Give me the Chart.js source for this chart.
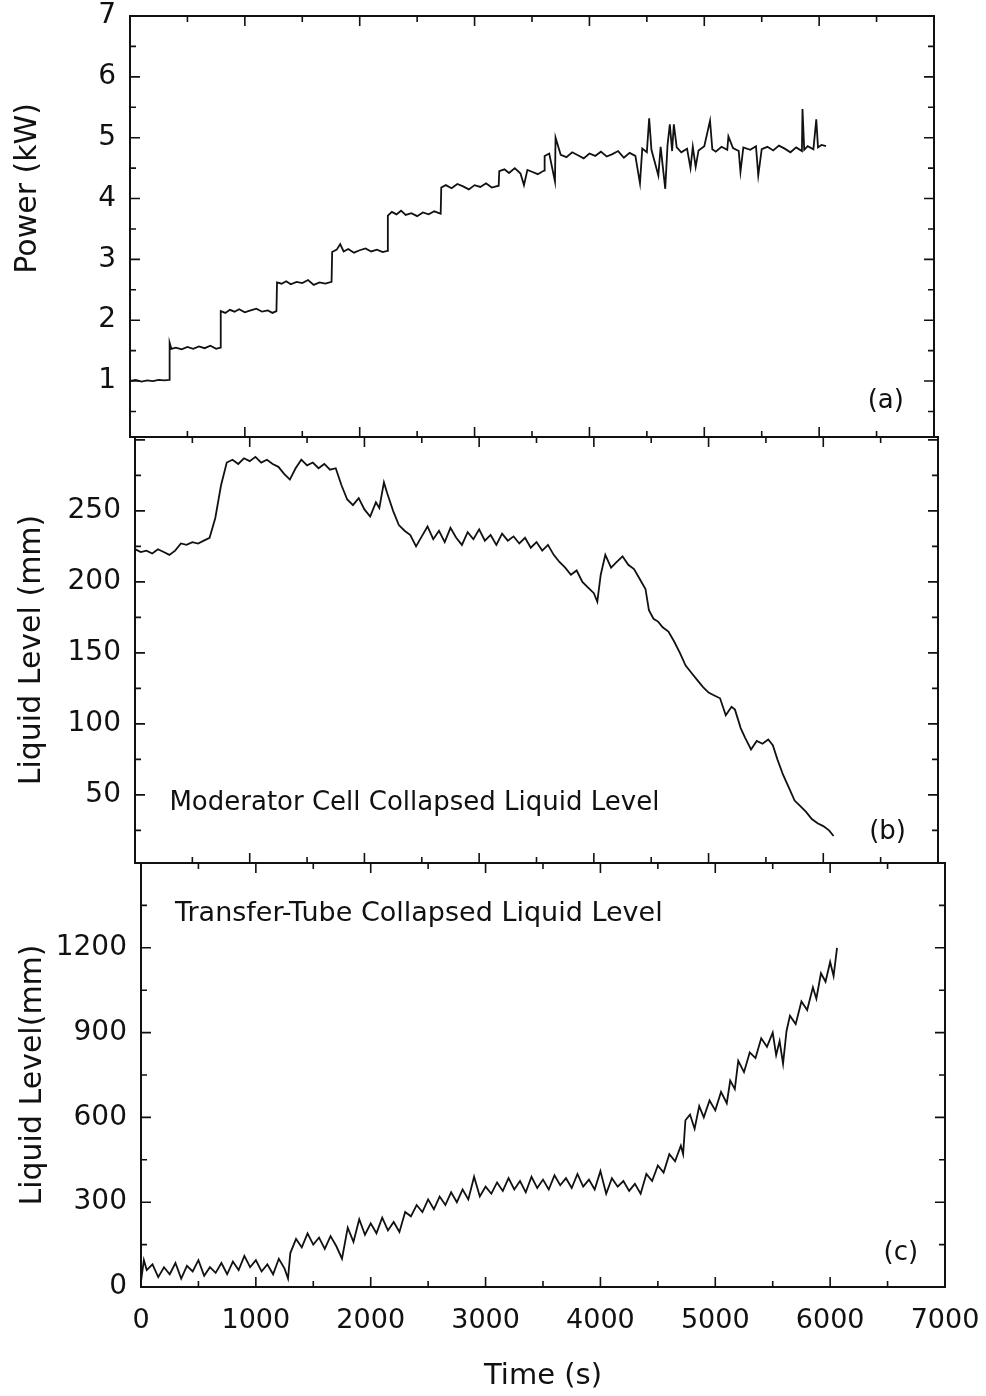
<!DOCTYPE html>
<html>
<head>
<meta charset="utf-8">
<script src="https://cdn.jsdelivr.net/npm/chart.js@4.4.1/dist/chart.umd.min.js"></script>
<style>
  html, body { margin: 0; padding: 0; background: #fff; }
  #wrap { position: relative; width: 986px; height: 1396px; }
  #wrap canvas { position: absolute; left: 0; }
</style>
</head>
<body>
<div id="wrap">
  <canvas id="powerChart" width="986" height="446" style="top:0px"></canvas>
  <canvas id="cellChart" width="986" height="446" style="top:428px"></canvas>
  <canvas id="tubeChart" width="986" height="546" style="top:850px"></canvas>
</div>
<script>
// (a) heater power
var powerTime = [
  0, 50, 100, 150, 200, 250, 300, 340, 345, 360,
  400, 450, 500, 550, 600, 650, 700, 750, 785, 790,
  830, 870, 910, 950, 1000, 1050, 1100, 1150, 1200, 1240,
  1275, 1280, 1320, 1360, 1400, 1450, 1500, 1550, 1600, 1650,
  1700, 1755, 1760, 1800, 1830, 1860, 1900, 1950, 2000, 2050,
  2100, 2150, 2200, 2240, 2245, 2280, 2320, 2360, 2400, 2450,
  2500, 2550, 2600, 2650, 2705, 2710, 2750, 2800, 2850, 2900,
  2950, 3000, 3050, 3100, 3150, 3210, 3215, 3260, 3300, 3350,
  3400, 3430, 3460, 3500, 3550, 3605, 3610, 3650, 3700, 3705,
  3750, 3800, 3850, 3900, 3950, 4000, 4050, 4100, 4150, 4200,
  4250, 4300, 4350, 4400, 4440, 4460, 4500, 4520, 4540, 4600,
  4620, 4660, 4680, 4700, 4720, 4735, 4760, 4800, 4850, 4880,
  4900, 4925, 4950, 5000, 5050, 5070, 5100, 5150, 5200, 5210,
  5250, 5300, 5315, 5340, 5400, 5450, 5470, 5500, 5550, 5600,
  5650, 5700, 5750, 5800, 5850, 5855, 5870, 5900, 5950, 5975,
  5990, 6020, 6060
];
var powerKW = [
  1.00, 1.02, 0.99, 1.01, 1.00, 1.02, 1.01, 1.02, 1.63, 1.53,
  1.55, 1.52, 1.56, 1.53, 1.57, 1.54, 1.58, 1.53, 1.55, 2.15,
  2.12, 2.17, 2.14, 2.18, 2.13, 2.16, 2.19, 2.14, 2.16, 2.12,
  2.15, 2.62, 2.60, 2.64, 2.59, 2.63, 2.61, 2.66, 2.58, 2.62,
  2.60, 2.63, 3.12, 3.16, 3.25, 3.13, 3.17, 3.11, 3.15, 3.18,
  3.13, 3.16, 3.12, 3.14, 3.72, 3.78, 3.74, 3.80, 3.73, 3.76,
  3.71, 3.77, 3.74, 3.79, 3.75, 4.18, 4.22, 4.17, 4.24, 4.20,
  4.15, 4.22, 4.19, 4.25, 4.18, 4.21, 4.45, 4.48, 4.42, 4.50,
  4.41, 4.22, 4.47, 4.44, 4.40, 4.46, 4.70, 4.74, 4.28, 5.00,
  4.72, 4.68, 4.76, 4.71, 4.66, 4.74, 4.70, 4.77, 4.69, 4.73,
  4.78, 4.67, 4.75, 4.70, 4.25, 4.82, 4.76, 5.32, 4.80, 4.38,
  4.85, 4.16, 4.88, 5.22, 4.78, 5.22, 4.84, 4.76, 4.82, 4.50,
  4.85, 4.52, 4.79, 4.86, 5.28, 4.81, 4.77, 4.85, 4.80, 5.02,
  4.83, 4.78, 4.44, 4.84, 4.80, 4.86, 4.38, 4.81, 4.85, 4.79,
  4.87, 4.82, 4.76, 4.84, 4.78, 5.47, 4.80, 4.86, 4.81, 5.30,
  4.84, 4.88, 4.86
];

// (b) moderator cell collapsed liquid level
var cellTime = [
  0, 50, 100, 150, 200, 250, 300, 350, 400, 450,
  500, 550, 600, 650, 700, 750, 800, 850, 900, 950,
  1000, 1050, 1100, 1150, 1200, 1250, 1300, 1350, 1400, 1450,
  1500, 1550, 1600, 1650, 1700, 1750, 1800, 1850, 1900, 1950,
  2000, 2050, 2100, 2130, 2170, 2200, 2250, 2300, 2350, 2400,
  2450, 2500, 2550, 2600, 2650, 2700, 2750, 2800, 2850, 2900,
  2950, 3000, 3050, 3100, 3150, 3200, 3250, 3300, 3350, 3400,
  3450, 3500, 3550, 3600, 3650, 3700, 3750, 3800, 3850, 3900,
  3950, 4000, 4030, 4060, 4100, 4150, 4200, 4250, 4300, 4350,
  4400, 4450, 4480, 4520, 4560, 4600, 4650, 4700, 4750, 4800,
  4850, 4900, 4950, 5000, 5050, 5100, 5150, 5200, 5230, 5280,
  5320, 5370, 5420, 5470, 5520, 5560, 5600, 5650, 5700, 5750,
  5800, 5850, 5900, 5950, 6000, 6050, 6090
];
var cellLevel = [
  223, 221, 222, 220, 223, 221, 219, 222, 227, 226,
  228, 227, 229, 231, 245, 268, 284, 286, 283, 287,
  285, 288, 284, 286, 283, 281, 276, 272, 280, 286,
  282, 284, 280, 283, 279, 280, 268, 258, 254, 259,
  251, 246, 256, 252, 270, 262, 250, 240, 236, 233,
  225, 232, 239, 230, 236, 228, 238, 231, 226, 235,
  230, 237, 229, 233, 226, 234, 229, 232, 227, 231,
  224, 228, 222, 226, 219, 214, 210, 205, 208, 200,
  196, 192, 186, 205, 219, 210, 214, 218, 212, 209,
  202, 195, 180, 174, 172, 168, 165, 158, 150, 141,
  136, 131, 126, 122, 120, 118, 106, 112, 110, 97,
  90, 82, 88, 86, 89, 85, 75, 64, 55, 46,
  42, 38, 33, 30, 28, 25, 21
];

// (c) transfer-tube collapsed liquid level
var tubeTime = [
  0, 25, 50, 100, 150, 200, 250, 300, 350, 400,
  450, 500, 550, 600, 650, 700, 750, 800, 850, 900,
  950, 1000, 1050, 1100, 1150, 1200, 1250, 1280, 1300, 1350,
  1400, 1450, 1500, 1550, 1600, 1650, 1700, 1750, 1800, 1850,
  1900, 1950, 2000, 2050, 2100, 2150, 2200, 2250, 2300, 2350,
  2400, 2450, 2500, 2550, 2600, 2650, 2700, 2750, 2800, 2850,
  2900, 2950, 3000, 3050, 3100, 3150, 3200, 3250, 3300, 3350,
  3400, 3450, 3500, 3550, 3600, 3650, 3700, 3750, 3800, 3850,
  3900, 3950, 4000, 4050, 4100, 4150, 4200, 4250, 4300, 4350,
  4400, 4450, 4500, 4550, 4600, 4650, 4700, 4720, 4740, 4780,
  4820, 4860, 4900, 4950, 5000, 5050, 5100, 5130, 5170, 5200,
  5250, 5300, 5350, 5400, 5450, 5500, 5530, 5560, 5590, 5620,
  5650, 5700, 5750, 5800, 5850, 5880, 5920, 5960, 6000, 6030,
  6060
];
var tubeLevel = [
  20, 95, 60, 80, 35, 70, 45, 85, 30, 75,
  55, 95, 40, 70, 50, 85, 45, 90, 60, 110,
  70, 95, 55, 80, 45, 100, 65, 30, 120, 170,
  140, 190, 150, 175, 135, 180, 145, 100, 210, 160,
  240, 185, 225, 190, 245, 200, 230, 195, 265, 250,
  290, 265, 310, 275, 320, 290, 335, 300, 345, 310,
  390, 320, 355, 330, 370, 340, 385, 345, 375, 335,
  390, 350, 380, 345, 395, 360, 385, 350, 400, 355,
  380, 345, 410, 330, 385, 355, 375, 340, 365, 330,
  400, 375, 430, 405, 470, 445, 500, 470, 590, 610,
  560, 640, 600, 660, 625, 690, 650, 730, 700, 800,
  760, 830, 810, 880, 850, 900, 820, 870, 790, 905,
  960, 930, 1010, 980, 1060, 1020, 1110, 1080, 1150, 1100,
  1200
];

// labelled ticks
var timeTicks = [0, 1000, 2000, 3000, 4000, 5000, 6000, 7000];
var powerTicks = [1, 2, 3, 4, 5, 6, 7];
var cellTicks = [50, 100, 150, 200, 250];
var tubeTicks = [0, 300, 600, 900, 1200];

var FONT = '"DejaVu Sans", "Liberation Sans", sans-serif';
var INK = '#111';

// box around the plot plus inward ticks on all four sides
function frameTicks(xMinor, yStart, yMinor, yMajor) {
  return {
    id: 'frameTicks',
    afterDatasetsDraw: function (chart) {
      var ctx = chart.ctx, a = chart.chartArea;
      var xs = chart.scales.x, ys = chart.scales.y;
      ctx.save();
      ctx.strokeStyle = INK;
      ctx.lineWidth = 2;
      ctx.strokeRect(a.left, a.top, a.right - a.left, a.bottom - a.top);
      ctx.lineWidth = 1.6;
      ctx.beginPath();
      for (var t = xMinor; t < xs.max; t += xMinor) {
        var len = t % 1000 === 0 ? 10 : 6;
        var px = xs.getPixelForValue(t);
        ctx.moveTo(px, a.top); ctx.lineTo(px, a.top + len);
        ctx.moveTo(px, a.bottom); ctx.lineTo(px, a.bottom - len);
      }
      for (var v = yStart; v < ys.max - 1e-6; v += yMinor) {
        var r = v / yMajor;
        var ylen = Math.abs(r - Math.round(r)) < 1e-6 ? 10 : 6;
        var py = ys.getPixelForValue(v);
        ctx.moveTo(a.left, py); ctx.lineTo(a.left + ylen, py);
        ctx.moveTo(a.right, py); ctx.lineTo(a.right - ylen, py);
      }
      ctx.stroke();
      ctx.restore();
    }
  };
}

// captions placed in data coordinates
function panelNotes(notes) {
  return {
    id: 'panelNotes',
    afterDraw: function (chart) {
      var ctx = chart.ctx;
      ctx.save();
      ctx.fillStyle = INK;
      ctx.textBaseline = 'middle';
      notes.forEach(function (n) {
        ctx.font = (n.size || 26) + 'px ' + FONT;
        ctx.textAlign = n.align;
        ctx.fillText(n.text, chart.scales.x.getPixelForValue(n.t), chart.scales.y.getPixelForValue(n.v));
      });
      ctx.restore();
    }
  };
}

function plainLabel(value) {
  return String(value);
}

function makePanel(id, times, values, p) {
  var points = times.map(function (t, i) { return {x: t, y: values[i]}; });
  return new Chart(document.getElementById(id), {
    type: 'line',
    data: {
      datasets: [{
        data: points,
        borderColor: INK,
        borderWidth: 1.8,
        pointRadius: 0,
        tension: 0,
        fill: false
      }]
    },
    options: {
      responsive: false,
      animation: false,
      events: [],
      layout: {padding: {top: p.padTop, bottom: p.padBottom, left: 0, right: p.padRight}},
      plugins: {legend: {display: false}, tooltip: {enabled: false}},
      scales: {
        x: {
          type: 'linear',
          min: 0,
          max: 7000,
          display: p.showX,
          afterBuildTicks: function (s) { s.ticks = timeTicks.map(function (v) { return {value: v}; }); },
          afterFit: function (s) {
            if (p.showX) s.height = 109;
            s.paddingLeft = 0;
            s.paddingRight = 0;
          },
          grid: {display: false, drawTicks: false},
          border: {display: false},
          ticks: {autoSkip: false, maxRotation: 0, padding: 18, color: INK, font: {family: FONT, size: 27}, callback: plainLabel},
          title: {display: true, text: 'Time (s)', color: INK, font: {family: FONT, size: 29}, padding: {top: 0, bottom: 2}}
        },
        y: {
          type: 'linear',
          min: p.yMin,
          max: p.yMax,
          afterBuildTicks: function (s) { s.ticks = p.yTicks.map(function (v) { return {value: v}; }); },
          afterFit: function (s) {
            s.width = p.axisWidth;
            s.paddingTop = 0;
            s.paddingBottom = 0;
          },
          grid: {display: false, drawTicks: false},
          border: {display: false},
          ticks: {autoSkip: false, padding: 14, color: INK, font: {family: FONT, size: 28}, callback: plainLabel},
          title: {display: true, text: p.yTitle, color: INK, font: {family: FONT, size: 30}, padding: {top: p.titlePad, bottom: 0}}
        }
      }
    },
    plugins: [frameTicks(500, p.yMinor, p.yMinor, p.yMajor), panelNotes(p.notes)]
  });
}

makePanel('powerChart', powerTime, powerKW, {
  padTop: 16, padBottom: 9, padRight: 52, axisWidth: 130, titlePad: 10,
  yMin: 0.08, yMax: 7, yTicks: powerTicks, yMinor: 0.5, yMajor: 1,
  yTitle: '        Power (kW)', showX: false,
  notes: [{text: '(a)', t: 6580, v: 0.66, align: 'center'}]
});

makePanel('cellChart', cellTime, cellLevel, {
  padTop: 9, padBottom: 11, padRight: 48, axisWidth: 135, titlePad: 14,
  yMin: 2, yMax: 302, yTicks: cellTicks, yMinor: 25, yMajor: 50,
  yTitle: 'Liquid Level (mm)', showX: false,
  notes: [
    {text: 'Moderator Cell Collapsed Liquid Level', t: 300, v: 44, align: 'left'},
    {text: '(b)', t: 6560, v: 24, align: 'center'}
  ]
});

makePanel('tubeChart', tubeTime, tubeLevel, {
  padTop: 13, padBottom: 0, padRight: 41, axisWidth: 141, titlePad: 15,
  yMin: 0, yMax: 1500, yTicks: tubeTicks, yMinor: 150, yMajor: 300,
  yTitle: 'Liquid Level(mm)', showX: true,
  notes: [
    {text: 'Transfer-Tube Collapsed Liquid Level', t: 296, v: 1318, align: 'left', size: 27},
    {text: '(c)', t: 6615, v: 120, align: 'center'}
  ]
});
</script>
</body>
</html>
